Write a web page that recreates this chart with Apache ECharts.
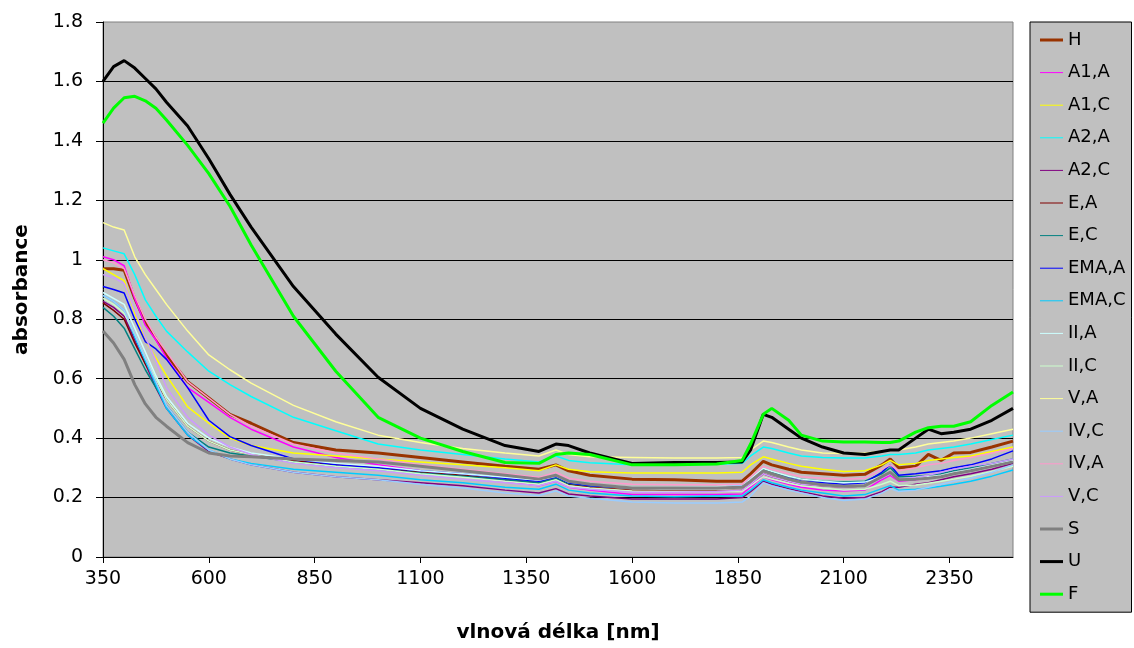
<!DOCTYPE html>
<html>
<head>
<meta charset="utf-8">
<script src="https://cdn.jsdelivr.net/npm/echarts@6/dist/echarts.min.js"></script>
<style>
html,body{margin:0;padding:0;background:#fff;}
#chart{width:1134px;height:648px;}
</style>
</head>
<body>
<div id="chart"></div>
<script>
// wavelength grid (nm)
const wavelengths = [350,375,400,425,450,475,500,550,600,650,700,800,900,1000,1100,1200,1300,1380,1420,1450,1500,1600,1700,1800,1860,1880,1910,1930,1970,2000,2050,2100,2150,2190,2210,2230,2270,2300,2330,2360,2400,2450,2500];

const seriesNames = ['H','A1,A','A1,C','A2,A','A2,C','E,A','E,C','EMA,A','EMA,C','II,A','II,C','V,A','IV,C','IV,A','V,C','S','U','F'];

const H     = [0.97,0.97,0.965,0.87,0.79,0.735,0.68,0.59,0.535,0.48,0.45,0.385,0.36,0.35,0.335,0.32,0.305,0.295,0.31,0.29,0.275,0.262,0.26,0.255,0.255,0.28,0.322,0.31,0.295,0.285,0.28,0.275,0.278,0.31,0.33,0.30,0.305,0.345,0.325,0.35,0.352,0.37,0.39];
const A1_A  = [1.01,1.0,0.98,0.87,0.78,0.73,0.67,0.57,0.52,0.47,0.43,0.37,0.335,0.31,0.29,0.27,0.255,0.24,0.255,0.235,0.225,0.21,0.21,0.21,0.212,0.235,0.27,0.26,0.245,0.235,0.225,0.222,0.225,0.26,0.275,0.255,0.26,0.265,0.27,0.28,0.29,0.305,0.32];
const A1_C  = [0.97,0.95,0.93,0.82,0.73,0.67,0.61,0.505,0.45,0.40,0.375,0.35,0.34,0.33,0.32,0.31,0.30,0.29,0.31,0.295,0.287,0.283,0.283,0.283,0.285,0.31,0.337,0.33,0.315,0.305,0.295,0.288,0.29,0.31,0.325,0.31,0.315,0.325,0.33,0.335,0.34,0.355,0.37];
const A2_A  = [1.04,1.03,1.02,0.95,0.865,0.81,0.76,0.69,0.625,0.58,0.54,0.47,0.425,0.38,0.36,0.345,0.33,0.32,0.34,0.325,0.317,0.31,0.31,0.312,0.315,0.34,0.37,0.365,0.35,0.34,0.335,0.333,0.333,0.34,0.345,0.345,0.35,0.36,0.365,0.37,0.38,0.395,0.41];
const A2_C  = [0.86,0.84,0.81,0.73,0.65,0.57,0.50,0.41,0.355,0.33,0.31,0.285,0.27,0.26,0.25,0.24,0.225,0.215,0.23,0.212,0.205,0.195,0.195,0.195,0.20,0.22,0.255,0.245,0.23,0.22,0.205,0.198,0.20,0.22,0.235,0.235,0.245,0.25,0.26,0.27,0.28,0.295,0.315];
const E_A   = [0.855,0.83,0.80,0.72,0.65,0.59,0.53,0.44,0.39,0.36,0.345,0.325,0.31,0.30,0.285,0.275,0.26,0.25,0.265,0.245,0.235,0.225,0.222,0.222,0.225,0.245,0.28,0.27,0.255,0.245,0.24,0.235,0.24,0.27,0.285,0.262,0.265,0.27,0.275,0.285,0.295,0.31,0.325];
const E_C   = [0.84,0.81,0.77,0.70,0.63,0.57,0.51,0.42,0.37,0.35,0.34,0.32,0.305,0.295,0.283,0.272,0.26,0.25,0.265,0.247,0.24,0.232,0.232,0.235,0.24,0.26,0.295,0.285,0.27,0.262,0.255,0.252,0.255,0.28,0.30,0.27,0.272,0.275,0.28,0.29,0.30,0.315,0.33];
const EMA_A = [0.91,0.90,0.888,0.80,0.725,0.70,0.665,0.57,0.46,0.405,0.375,0.33,0.31,0.30,0.29,0.28,0.265,0.255,0.27,0.25,0.24,0.232,0.232,0.235,0.24,0.26,0.29,0.28,0.265,0.255,0.25,0.245,0.25,0.285,0.31,0.275,0.28,0.285,0.29,0.30,0.31,0.33,0.357];
const EMA_C = [0.88,0.86,0.83,0.74,0.66,0.58,0.50,0.41,0.36,0.33,0.315,0.295,0.285,0.275,0.26,0.25,0.235,0.228,0.245,0.225,0.215,0.205,0.203,0.205,0.205,0.225,0.26,0.25,0.235,0.225,0.215,0.205,0.21,0.23,0.24,0.225,0.228,0.232,0.238,0.245,0.255,0.272,0.293];
const II_A  = [0.89,0.87,0.85,0.77,0.69,0.61,0.54,0.45,0.40,0.37,0.35,0.33,0.315,0.305,0.29,0.28,0.268,0.258,0.272,0.252,0.245,0.235,0.235,0.237,0.24,0.262,0.298,0.288,0.272,0.262,0.255,0.25,0.252,0.27,0.28,0.262,0.265,0.27,0.275,0.285,0.295,0.31,0.325];
const II_C  = [0.87,0.85,0.82,0.75,0.67,0.60,0.53,0.44,0.39,0.36,0.345,0.32,0.305,0.295,0.28,0.268,0.255,0.245,0.26,0.24,0.232,0.222,0.22,0.22,0.222,0.24,0.27,0.262,0.248,0.24,0.232,0.225,0.228,0.245,0.255,0.24,0.242,0.248,0.255,0.262,0.272,0.288,0.305];
const V_A   = [1.125,1.11,1.10,1.01,0.95,0.90,0.85,0.76,0.68,0.63,0.585,0.51,0.455,0.41,0.385,0.365,0.35,0.34,0.36,0.345,0.337,0.335,0.333,0.333,0.335,0.36,0.39,0.385,0.37,0.36,0.35,0.348,0.35,0.355,0.36,0.36,0.37,0.38,0.385,0.39,0.40,0.415,0.43];
const IV_C  = [0.88,0.86,0.83,0.75,0.67,0.59,0.51,0.42,0.36,0.33,0.31,0.285,0.27,0.26,0.245,0.232,0.215,0.207,0.222,0.205,0.198,0.185,0.182,0.182,0.185,0.205,0.25,0.24,0.225,0.215,0.20,0.19,0.195,0.215,0.23,0.22,0.225,0.235,0.245,0.255,0.265,0.285,0.31];
const IV_A  = [1.0,0.99,0.97,0.88,0.80,0.74,0.69,0.59,0.535,0.48,0.44,0.38,0.35,0.33,0.31,0.295,0.28,0.268,0.285,0.265,0.255,0.245,0.243,0.243,0.245,0.27,0.305,0.295,0.28,0.27,0.265,0.262,0.265,0.295,0.31,0.29,0.30,0.31,0.315,0.325,0.335,0.35,0.365];
const V_C   = [0.95,0.94,0.92,0.83,0.74,0.66,0.57,0.47,0.41,0.37,0.345,0.315,0.30,0.29,0.275,0.262,0.25,0.24,0.255,0.235,0.228,0.218,0.218,0.22,0.225,0.245,0.28,0.27,0.255,0.245,0.24,0.235,0.24,0.265,0.28,0.262,0.268,0.275,0.285,0.295,0.305,0.315,0.33];
const S     = [0.76,0.72,0.665,0.58,0.515,0.47,0.44,0.385,0.35,0.34,0.337,0.33,0.325,0.32,0.305,0.29,0.275,0.262,0.275,0.255,0.245,0.232,0.232,0.232,0.235,0.255,0.29,0.28,0.262,0.252,0.243,0.238,0.24,0.27,0.285,0.26,0.262,0.265,0.27,0.28,0.29,0.305,0.32];
const U     = [1.60,1.65,1.67,1.645,1.61,1.575,1.53,1.45,1.34,1.22,1.11,0.91,0.75,0.605,0.50,0.43,0.375,0.355,0.38,0.375,0.35,0.315,0.318,0.318,0.32,0.36,0.48,0.47,0.43,0.40,0.37,0.35,0.345,0.355,0.36,0.36,0.40,0.43,0.415,0.42,0.43,0.46,0.50];
const F     = [1.46,1.51,1.545,1.55,1.535,1.51,1.47,1.385,1.29,1.18,1.05,0.81,0.625,0.47,0.40,0.355,0.318,0.315,0.345,0.35,0.345,0.31,0.31,0.313,0.325,0.38,0.48,0.50,0.46,0.41,0.39,0.387,0.387,0.385,0.385,0.39,0.42,0.435,0.44,0.44,0.455,0.51,0.555];

const seriesValues = [H,A1_A,A1_C,A2_A,A2_C,E_A,E_C,EMA_A,EMA_C,II_A,II_C,V_A,IV_C,IV_A,V_C,S,U,F];
const seriesColors = ['#993300','#FF00FF','#FFFF00','#00FFFF','#800080','#800000','#008080','#0000FF','#00CCFF','#CCFFFF','#CCFFCC','#FFFF99','#99CCFF','#FF99CC','#CC99FF','#808080','#000000','#00FF00'];
const seriesWidths = [3,1.5,1.5,1.5,1.5,1.5,1.5,1.5,1.5,1.5,1.5,1.5,1.5,1.5,1.5,3,3,3];

// legend line icons: full-size bounding box (moveTo corners) with a centred bar
const thinIcon  = 'path://M0,0M23,14M0,6.5L23,6.5L23,7.5L0,7.5Z';
const thickIcon = 'path://M0,0M23,14M0,5.5L23,5.5L23,8.5L0,8.5Z';

const chart = echarts.init(document.getElementById('chart'), null, {renderer:'canvas'});
const series = seriesNames.map((name, i) => ({
  name: name,
  type: 'line',
  symbol: 'none',
  showSymbol: false,
  smooth: false,
  data: wavelengths.map((w, j) => [w, seriesValues[i][j]]),
  itemStyle: {color: seriesColors[i]},
  lineStyle: {color: seriesColors[i], width: seriesWidths[i]}
}));

const font = 'DejaVu Sans';
chart.setOption({
  animation: false,
  backgroundColor: '#ffffff',
  grid: {left:103, right:121, top:22, bottom:91, show:true, backgroundColor:'#C0C0C0', borderColor:'#808080', borderWidth:1},
  xAxis: {
    type:'value', min:350, max:2500, interval:250,
    name:'vlnová délka [nm]', nameLocation:'middle', nameGap:66,
    nameTextStyle:{fontFamily:font, fontWeight:'bold', fontSize:20, color:'#000'},
    axisLine:{onZero:false, lineStyle:{color:'#000', width:1}},
    axisTick:{show:true, length:6, lineStyle:{color:'#000'}},
    axisLabel:{showMaxLabel:false, margin:13, fontFamily:font, fontSize:19, color:'#000', formatter: v => String(v)},
    splitLine:{show:false}
  },
  yAxis: {
    type:'value', min:0, max:1.8, interval:0.2,
    name:'absorbance', nameLocation:'middle', nameGap:71, nameRotate:90,
    nameTextStyle:{fontFamily:font, fontWeight:'bold', fontSize:20, color:'#000'},
    axisLine:{show:true, lineStyle:{color:'#000', width:1}},
    axisTick:{show:true, length:7, lineStyle:{color:'#000'}},
    axisLabel:{margin:20, fontFamily:font, fontSize:19, color:'#000', formatter: v => String(Math.round(v*10)/10)},
    splitLine:{show:true, showMaxLine:false, lineStyle:{color:'#000', width:1}}
  },
  legend: {
    orient:'vertical', left:1030, top:22,
    padding:[9,6,9,10], itemGap:14.6, itemWidth:23, itemHeight:14,
    backgroundColor:'#C0C0C0', borderColor:'#000', borderWidth:1,
    textStyle:{fontFamily:font, fontSize:18, color:'#000', lineHeight:18},
    data: seriesNames.map((n, i) => ({name: n, icon: seriesWidths[i] > 2 ? thickIcon : thinIcon, itemStyle:{color: seriesColors[i], borderWidth:0}}))
  },
  series: series
});
</script>
</body>
</html>
